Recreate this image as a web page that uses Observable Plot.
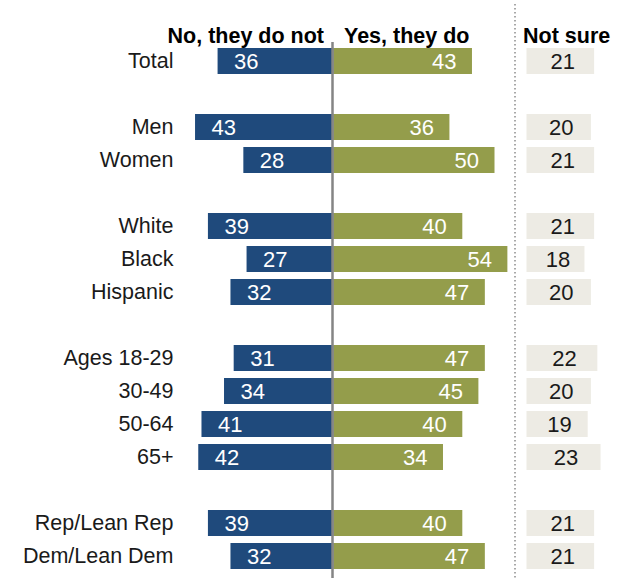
<!DOCTYPE html>
<html>
<head>
<meta charset="utf-8">
<script src="https://cdn.jsdelivr.net/npm/d3@7"></script>
<script src="https://cdn.jsdelivr.net/npm/@observablehq/plot@0.6"></script>
<style>
  html, body { margin: 0; padding: 0; background: #fff; }
  #chart { display: flex; width: 619px; height: 578px; }
  #chart svg { display: block; }
</style>
</head>
<body>
<div id="chart"></div>
<script>
// ---- data ----
const categories = ["Total", "Men", "Women", "White", "Black", "Hispanic",
  "Ages 18-29", "30-49", "50-64", "65+", "Rep/Lean Rep", "Dem/Lean Dem"];
const groupSizes = [1, 2, 3, 4, 2];
const noValues = [36, 43, 28, 39, 27, 32, 31, 34, 41, 42, 39, 32];
const yesValues = [43, 36, 50, 40, 54, 47, 47, 45, 40, 34, 40, 47];
const notSureValues = [21, 20, 21, 21, 18, 20, 22, 20, 19, 23, 21, 21];
const headers = { no: "No, they do not", yes: "Yes, they do", notSure: "Not sure" };

// ---- build table and band domain with blank spacer rows ----
const rows = categories.map((c, i) => ({ cat: c, no: noValues[i], yes: yesValues[i], ns: notSureValues[i] }));
const yDomain = [];
let k = 0;
groupSizes.forEach((n, g) => {
  for (let j = 0; j < n; j++) yDomain.push(categories[k++]);
  if (g < groupSizes.length - 1) yDomain.push(" ".repeat(g + 1));
});

const blue = "#1f4a7c", olive = "#949d4b", beige = "#edebe4";
const font = "'Liberation Sans', Arial, sans-serif";
const pxPerUnit = 3.22;
const zeroPx = 333.5;
const yScale = { domain: yDomain, range: [41, 576], paddingInner: 0.2, paddingOuter: 0.1 };

const left = Plot.plot({
  width: 514, height: 578,
  marginLeft: 183, marginTop: 42, marginBottom: 0, marginRight: 0,
  style: { fontFamily: font, background: "transparent", overflow: "visible" },
  x: { domain: [-60, 56], range: [zeroPx - 60 * pxPerUnit, zeroPx + 56 * pxPerUnit], axis: null },
  y: { ...yScale, axis: null },
  marks: [
    Plot.axisY({ tickSize: 0, tickPadding: 10, fontSize: 21.5, fill: "#1a1a1a", label: null }),
    Plot.barX(rows, { y: "cat", x1: d => -d.no, x2: 0, fill: blue }),
    Plot.barX(rows, { y: "cat", x1: 0, x2: "yes", fill: olive }),
    Plot.ruleX([0], { stroke: "#858585", strokeWidth: 2.5, dx: -1.5 }),
    Plot.text(rows, { y: "cat", x: d => -d.no, text: "no", textAnchor: "start", dx: 16, fill: "white", fontSize: 22 }),
    Plot.text(rows, { y: "cat", x: "yes", text: "yes", textAnchor: "end", dx: -16, fill: "white", fontSize: 22 }),
    Plot.text([headers.no], { x: 0, frameAnchor: "top", text: d => d, textAnchor: "end", dx: -10, dy: -15, fontWeight: "bold", fontSize: 21.5, fill: "#000" }),
    Plot.text([headers.yes], { x: 0, frameAnchor: "top", text: d => d, textAnchor: "start", dx: 10, dy: -15, fontWeight: "bold", fontSize: 21.5, fill: "#000" })
  ]
});

const nsMin = -12 / pxPerUnit;
const right = Plot.plot({
  width: 105, height: 578,
  marginLeft: 0, marginTop: 4, marginBottom: 0, marginRight: 0,
  style: { fontFamily: font, background: "transparent", overflow: "visible" },
  x: { domain: [nsMin, 30], range: [0.5, 0.5 + (30 - nsMin) * pxPerUnit], axis: null },
  y: { ...yScale, axis: null },
  marks: [
    Plot.ruleX([nsMin], { stroke: "#8c8c8c", strokeWidth: 1.5, strokeDasharray: "1.5,2.5" }),
    Plot.barX(rows, { y: "cat", x1: 0, x2: "ns", fill: beige }),
    Plot.text(rows, { y: "cat", x: d => d.ns / 2, text: "ns", dx: 2, fill: "#1a1a1a", fontSize: 22 }),
    Plot.text([headers.notSure], { x: nsMin, frameAnchor: "top", text: d => d, textAnchor: "start", dx: 8, dy: 23, fontWeight: "bold", fontSize: 21.5, fill: "#000" })
  ]
});

document.getElementById("chart").append(left, right);
</script>
</body>
</html>
